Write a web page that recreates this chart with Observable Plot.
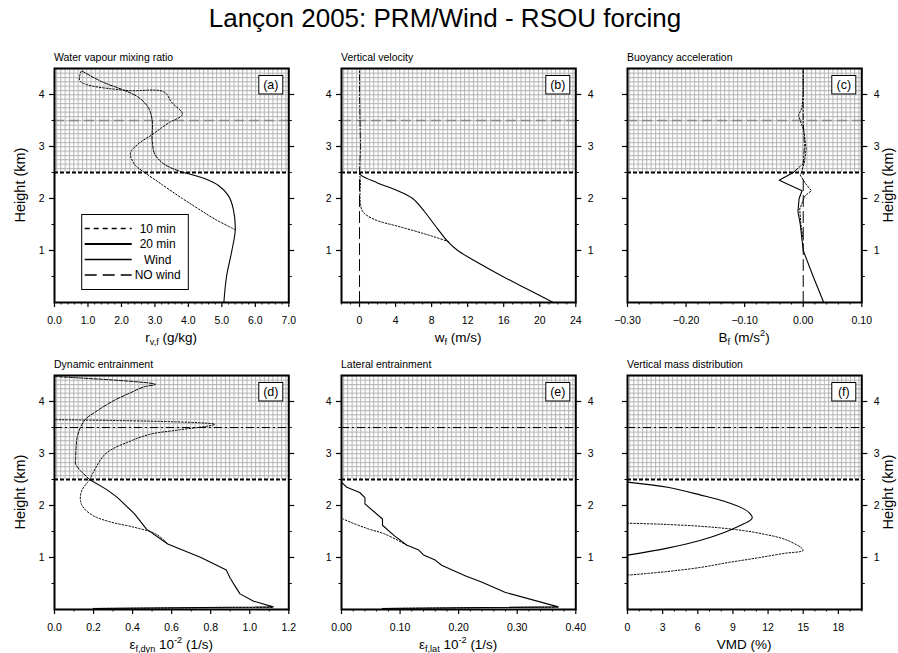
<!DOCTYPE html>
<html><head><meta charset="utf-8">
<script src="https://cdn.jsdelivr.net/npm/d3@7"></script>
<script src="https://cdn.jsdelivr.net/npm/@observablehq/plot@0.6"></script>
<style>
body{margin:0;background:#fff;overflow:hidden;font-family:"Liberation Sans",Arial,sans-serif;}
#wrap{position:relative;width:898px;height:653px;overflow:hidden;background:#fff;}
#title{position:absolute;left:0;width:890px;top:3px;text-align:center;font-size:26px;color:#000;}
#wrap svg.panel{position:absolute;}
</style></head><body>
<svg width="0" height="0" style="position:absolute"><defs>
<pattern id="hatch" patternUnits="userSpaceOnUse" width="4.33" height="4.33">
<rect width="4.33" height="4.33" fill="#fff"/>
<path d="M0 0.5H4.33M0.5 0V4.33" stroke="#b4b4b4" stroke-width="1"/>
</pattern></defs></svg>
<div id="wrap"><div id="title">Lançon 2005: PRM/Wind - RSOU forcing</div></div>
<script>
const FONT = '"Liberation Sans", Arial, Helvetica, sans-serif';
const heightDomain = [0, 4.5];
const heightTicks = [1, 2, 3, 4];
const heightMinor = [0.5, 1.5, 2.5, 3.5];
const hatchBand = [{lo: 2.5, hi: 4.5}];
const boundaryLevel = [2.5];
const dashLevel = [3.5];
const legendLabels = ["10 min", "20 min", "Wind", "NO wind"];

// (a) water vapour mixing ratio [g/kg, km]
const rv20Low = [[5.06,0],[5.14,0.5],[5.3,1.0],[5.4,1.4],[5.34,1.8],[5.2,2.05],[4.9,2.25],[4.5,2.38],[3.85,2.5]];
const rv20Up  = [[3.85,2.5],[3.3,2.65],[3.0,2.85],[2.92,3.1],[2.92,3.5],[2.8,3.75],[2.5,3.95],[2.0,4.1],[1.4,4.25],[0.8,4.46]];
const rv10Low = [[5.4,1.4],[4.8,1.6],[4.3,1.8],[3.82,2.0],[3.25,2.25],[2.69,2.5]];
const rv10Up  = [[2.69,2.5],[2.4,2.65],[2.27,2.87],[2.5,3.05],[2.9,3.22],[3.4,3.45],[3.82,3.62],[3.5,3.85],[3.27,4.05],[2.1,4.08],[0.76,4.26],[0.8,4.45]];
// (b) vertical velocity [m/s, km]
const w20Low = [[21.5,0],[18.7,0.25],[15.9,0.5],[13.3,0.75],[10.9,1.0],[9.8,1.17],[8.3,1.5],[7.2,1.75],[5.9,2.0],[4.25,2.15],[2.0,2.3],[0.15,2.45],[0,2.5]];
const w20Up  = [[0,2.5],[0.1,3.0],[0.05,3.5],[0,4.0],[0,4.5]];
const w10Low = [[9.9,1.17],[7.6,1.3],[4.6,1.45],[1.6,1.6],[0.35,1.75],[0.1,1.9],[0.05,2.1],[0.1,2.3],[0,2.5]];
const wNoWind = [[0,0],[0,2.5]];
// (c) buoyancy acceleration [m/s2, km]
const b20Low = [[0.035,0],[0.017,0.5],[0.0,1.0],[-0.005,1.5],[-0.009,1.75],[-0.007,2.0],[-0.002,2.15],[-0.041,2.35],[-0.017,2.5]];
const b20Up  = [[-0.017,2.5],[0,2.67],[0.002,3.0],[0,3.5],[0,4.0],[0,4.5]];
const b10Low = [[0,1.2],[-0.004,1.5],[-0.006,1.8],[0.003,2.05],[0.014,2.15],[0.003,2.3],[-0.005,2.45],[-0.003,2.5]];
const b10Up  = [[-0.003,2.5],[0.002,2.7],[0.005,2.95],[0.001,3.3],[-0.008,3.6],[-0.002,3.75],[0,4.0],[0,4.5]];
const bNoWind = [[0,0],[0,2.5]];
// (d) dynamic entrainment [1e-2 1/s, km]
const ed20Low = [[0.2,0.02],[1.12,0.05],[1.02,0.16],[0.95,0.3],[0.925,0.45],[0.90,0.6],[0.88,0.76],[0.75,1.0],[0.58,1.26],[0.47,1.55],[0.41,1.84],[0.32,2.16],[0.27,2.3],[0.18,2.5]];
const ed20Up  = [[0.18,2.5],[0.133,2.67],[0.108,2.8],[0.108,2.9],[0.116,3.31],[0.133,3.5],[0.159,3.66],[0.218,3.82],[0.30,4.01],[0.39,4.17],[0.457,4.28],[0.517,4.33],[0.0,4.48]];
const ed10Base = [[0.2,0.02],[1.12,0.04]];
const ed10Low = [[0.575,1.28],[0.52,1.45],[0.41,1.58],[0.29,1.68],[0.20,1.8],[0.15,1.95],[0.133,2.09],[0.14,2.29],[0.18,2.49]];
const ed10Up  = [[0.18,2.49],[0.26,2.99],[0.39,3.24],[0.49,3.37],[0.63,3.45],[0.82,3.56],[0.0,3.65]];
// (e) lateral entrainment [1e-2 1/s, km]
const el20Low = [[0.07,0.02],[0.37,0.05],[0.279,0.33],[0.239,0.53],[0.211,0.65],[0.171,0.85],[0.160,0.95],[0.140,1.05],[0.131,1.15],[0.111,1.24],[0.09,1.42],[0.07,1.62],[0.07,1.74],[0.04,2.03],[0.04,2.15],[0.031,2.25],[0.009,2.35],[0,2.45]];
const el10Base = [[0.07,0.02],[0.37,0.045]];
const el10Low = [[0.111,1.24],[0.074,1.45],[0.046,1.55],[0.017,1.67],[0.003,1.74]];
// (f) vertical mass distribution [%, km]
const vmd20 = [[0,1.045],[3.41,1.18],[6.26,1.33],[8.25,1.48],[9.67,1.62],[10.5,1.72],[10.65,1.77],[10.4,1.86],[9.96,1.93],[8.25,2.08],[6.26,2.2],[3.41,2.35],[0,2.45]];
const vmd10 = [[0,0.66],[3.4,0.73],[6.26,0.81],[8.5,0.9],[10.5,0.97],[13.4,1.08],[15.0,1.14],[13.65,1.33],[11.4,1.46],[9.1,1.54],[6.26,1.6],[2.85,1.64],[0,1.66]];

const lineStyles = {
  solid:  {strokeWidth: 1.1},
  upper:  {strokeWidth: 1, strokeDasharray: "3.5,1.5"},
  upperThin: {strokeWidth: 1, strokeDasharray: "6,2,1.5,2"},
  dot:    {strokeWidth: 1, strokeDasharray: "1.6,1.8"},
  nowind: {strokeWidth: 1, strokeDasharray: "11,5"}
};

const panels = [
  {key:"(a)", title:"Water vapour mixing ratio", col:0, row:0, xDomain:[0,7], xTicks:[0,1,2,3,4,5,6,7], xStep:0.2, fmt:d3.format(".1f"), ySide:"left", legend:true,
   label:[["r"],["v,f","sub"],[" (g/kg)"]],
   lines:[[rv20Low,"solid","catmull-rom"],[rv20Up,"upper","catmull-rom"],[rv10Low,"dot","catmull-rom"],[rv10Up,"dot","catmull-rom"]]},
  {key:"(b)", title:"Vertical velocity", col:1, row:0, xDomain:[-2,24], xTicks:[0,4,8,12,16,20,24], xStep:1, fmt:d3.format("d"), ySide:"both",
   label:[["w"],["f","sub"],[" (m/s)"]],
   lines:[[wNoWind,"nowind","linear"],[w20Low,"solid","catmull-rom"],[w20Up,"upperThin","linear"],[w10Low,"dot","catmull-rom"]]},
  {key:"(c)", title:"Buoyancy acceleration", col:2, row:0, xDomain:[-0.3,0.1], xTicks:[-0.3,-0.2,-0.1,0,0.1], xStep:0.02, fmt:d3.format(".2f"), ySide:"right",
   label:[["B"],["f","sub"],[" (m/s"],["2","sup"],[")"]],
   lines:[[bNoWind,"nowind","linear"],[b20Low,"solid","linear"],[b20Up,"upperThin","linear"],[b10Low,"dot","linear"],[b10Up,"dot","linear"]]},
  {key:"(d)", title:"Dynamic entrainment", col:0, row:1, xDomain:[0,1.2], xTicks:[0,0.2,0.4,0.6,0.8,1.0,1.2], xStep:0.1, fmt:d3.format(".1f"), ySide:"left",
   label:[["ε"],["f,dyn","sub"],[" 10"],["-2","sup"],[" (1/s)"]],
   lines:[[ed20Low,"solid","linear"],[ed20Up,"upper","catmull-rom"],[ed10Base,"dot","linear"],[ed10Low,"dot","catmull-rom"],[ed10Up,"dot","catmull-rom"]]},
  {key:"(e)", title:"Lateral entrainment", col:1, row:1, xDomain:[0,0.4], xTicks:[0,0.1,0.2,0.3,0.4], xStep:0.02, fmt:d3.format(".2f"), ySide:"both",
   label:[["ε"],["f,lat","sub"],[" 10"],["-2","sup"],[" (1/s)"]],
   lines:[[el20Low,"solid","linear"],[el10Base,"dot","linear"],[el10Low,"dot","catmull-rom"]]},
  {key:"(f)", title:"Vertical mass distribution", col:2, row:1, xDomain:[0,20], xTicks:[0,3,6,9,12,15,18], xStep:1, fmt:d3.format("d"), ySide:"right",
   label:[["VMD (%)"]],
   lines:[[vmd20,"solid","catmull-rom"],[vmd10,"dot","catmull-rom"]]}
];

// layout
const colLeft = [54, 340.5, 626.7];
const rowTop = [68.2, 374.6];
const IW = 234.3, IH = 234;
const ML = 50, MR = 50, MT = 30, MB = 55;

function richText(g, parts, x, y, size) {
  const t = g.append("text").attr("x", x).attr("y", y).attr("text-anchor", "middle").attr("font-size", size).attr("fill", "#000");
  let shift = 0;
  parts.forEach(([s, kind]) => {
    const target = kind === "sub" ? 3.5 : kind === "sup" ? -5.5 : 0;
    const ts = t.append("tspan").attr("dy", target - shift).text(s);
    if (kind) ts.attr("font-size", size * 0.68);
    shift = target;
  });
}

function deco(p) {
  return (...args) => {
    const dims = args.find(a => a && typeof a === "object" && "marginLeft" in a);
    const x0 = dims.marginLeft, x1 = dims.width - dims.marginRight;
    const y0 = dims.marginTop, y1 = dims.height - dims.marginBottom;
    const g = d3.create("svg:g").attr("font-family", FONT).attr("fill", "#000");
    g.append("text").attr("x", x0).attr("y", y0 - 7).attr("text-anchor", "start").attr("font-size", 10.5).text(p.title);
    // panel key box
    g.append("rect").attr("x", x1 - 29.5).attr("y", y0 + 7.5).attr("width", 24).attr("height", 18.5)
      .attr("fill", "#fff").attr("stroke", "#000").attr("stroke-width", 1);
    g.append("text").attr("x", x1 - 17.5).attr("y", y0 + 21).attr("text-anchor", "middle").attr("font-size", 12.5).text(p.key);
    // x label
    richText(g, p.label, (x0 + x1) / 2, y1 + 40, 13.5);
    // height label
    const yc = (y0 + y1) / 2;
    if (p.ySide === "left") {
      g.append("text").attr("transform", `translate(${x0 - 29},${yc}) rotate(-90)`).attr("text-anchor", "middle").attr("font-size", 14.5).text("Height (km)");
    } else if (p.ySide === "right") {
      g.append("text").attr("transform", `translate(${x1 + 32},${yc}) rotate(-90)`).attr("text-anchor", "middle").attr("font-size", 14.5).text("Height (km)");
    }
    if (p.legend) {
      const lx = x0 + 27.7, ly = y0 + 146.5;
      g.append("rect").attr("x", lx).attr("y", ly).attr("width", 106.6).attr("height", 75).attr("fill", "#fff").attr("stroke", "#000").attr("stroke-width", 1);
      const ls = [{w: 1.5, d: "5,4"}, {w: 2, d: null}, {w: 1.5, d: null}, {w: 1.5, d: "12,6"}];
      legendLabels.forEach((lab, i) => {
        const yy = ly + 14 + i * 15.5;
        const l = g.append("line").attr("x1", lx + 3).attr("x2", lx + 50).attr("y1", yy).attr("y2", yy)
          .attr("stroke", "#000").attr("stroke-width", ls[i].w);
        if (ls[i].d) l.attr("stroke-dasharray", ls[i].d);
        g.append("text").attr("x", lx + 76).attr("y", yy + 4.3).attr("text-anchor", "middle").attr("font-size", 12).text(lab);
      });
    }
    return g.node();
  };
}

const wrap = document.getElementById("wrap");
const none = () => "";

panels.forEach(p => {
  const major = p.xTicks;
  const minor = d3.range(Math.round((p.xDomain[1] - p.xDomain[0]) / p.xStep) + 1)
    .map(i => +(p.xDomain[0] + i * p.xStep).toFixed(6))
    .filter(v => !major.some(m => Math.abs(m - v) < 1e-9));
  const top = p.row === 0;
  const marks = [
    Plot.rect(hatchBand, {x1: () => p.xDomain[0], x2: () => p.xDomain[1], y1: "lo", y2: "hi", fill: "url(#hatch)"}),
    Plot.ruleY(dashLevel, top ? {stroke: "#8c8c8c", strokeWidth: 1.3, strokeDasharray: "10,5"}
                              : {stroke: "#000", strokeWidth: 1, strokeDasharray: "8,3,2,3"}),
    Plot.ruleY(boundaryLevel, {stroke: "#000", strokeWidth: 2, strokeDasharray: "4,2"}),
    ...p.lines.map(([data, st, curve]) => Plot.line(data, {x: d => d[0], y: d => d[1], curve, stroke: "#000", ...lineStyles[st]})),
    Plot.frame({stroke: "#000", strokeWidth: 2}),
    Plot.axisX({anchor: "bottom", ticks: major, tickSize: 5, tickPadding: 9, tickFormat: p.fmt, label: null, strokeWidth: 1.2}),
    Plot.axisX({anchor: "bottom", ticks: minor, tickSize: 2.5, tickPadding: 0, tickFormat: none, label: null}),
    Plot.axisY({anchor: "left", ticks: heightTicks, tickSize: 5, tickPadding: 5, tickFormat: p.ySide === "right" ? none : d3.format("d"), label: null, strokeWidth: 1.2}),
    Plot.axisY({anchor: "left", ticks: heightMinor, tickSize: 2.5, tickFormat: none, label: null}),
    Plot.axisY({anchor: "right", ticks: heightTicks, tickSize: 5, tickPadding: 7, tickFormat: p.ySide === "left" ? none : d3.format("d"), label: null, strokeWidth: 1.2}),
    Plot.axisY({anchor: "right", ticks: heightMinor, tickSize: 2.5, tickFormat: none, label: null}),
    deco(p)
  ];
  const svg = Plot.plot({
    width: IW + ML + MR, height: IH + MT + MB,
    marginLeft: ML, marginRight: MR, marginTop: MT, marginBottom: MB,
    x: {domain: p.xDomain},
    y: {domain: heightDomain},
    style: {background: "transparent", fontFamily: FONT, fontSize: "10.5px", color: "#000", overflow: "visible"},
    marks
  });
  svg.classList.add("panel");
  svg.style.position = "absolute";
  svg.style.left = (colLeft[p.col] - ML) + "px";
  svg.style.top = (rowTop[p.row] - MT) + "px";
  svg.style.maxWidth = "none";
  wrap.appendChild(svg);
});
</script>
</body></html>
